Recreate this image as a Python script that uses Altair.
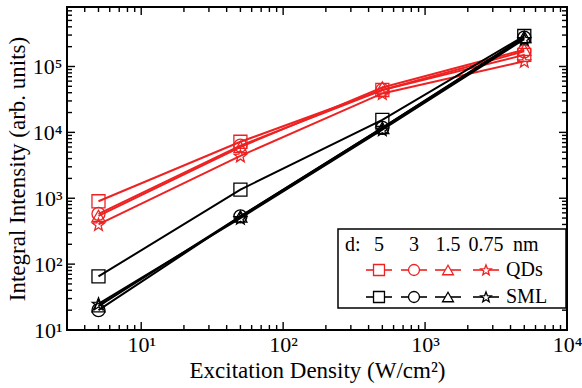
import math
import altair as alt
import pandas as pd

# ---------------- data ----------------
density = [5, 50, 500, 5000]                 # W/cm^2
thickness = ["5", "3", "1.5", "0.75"]         # nm
samples = ["QDs", "SML"]

qd_5 = [900, 7200, 44000, 150000]
qd_3 = [580, 6300, 44000, 170000]
qd_15 = [540, 6000, 48000, 180000]
qd_075 = [400, 4400, 39000, 120000]

sml_5 = [65, 1350, 15500, 290000]
sml_3 = [20, 530, 11700, 275000]
sml_15 = [23, 530, 11700, 280000]
sml_075 = [25, 500, 11000, 260000]

x_major = [10, 100, 1000, 10000]
y_major = [10, 100, 1000, 10000, 100000]
mult = [2, 3, 4, 5, 6, 7, 8, 9]

# ---------------- style ----------------
RED = "#ee2222"
FONT = "Liberation Serif"
W, H = 500, 323
XTITLE = "Excitation Density (W/cm²)"
YTITLE = "Integral Intensity (arb. units)"

star_pts = []
for k in range(10):
    ang = math.radians(-90 + 36 * k)
    r = 1.0 if k % 2 == 0 else 0.42
    star_pts.append((r * math.cos(ang), r * math.sin(ang) + 0.08))
STAR = "M" + "L".join(f"{px:.3f},{py:.3f}" for px, py in star_pts) + "Z"
SHAPES = ["square", "circle", "triangle-up", STAR]

rows = []
for sample, series in [("QDs", [qd_5, qd_3, qd_15, qd_075]),
                       ("SML", [sml_5, sml_3, sml_15, sml_075])]:
    for d, vals in zip(thickness, series):
        for x, v in zip(density, vals):
            rows.append({"sample": sample, "d": d, "density": x, "intensity": v})
df = pd.DataFrame(rows)

xscale = alt.Scale(type="log", domain=[3, 10000], nice=False)
yscale = alt.Scale(type="log", domain=[10, 800000], nice=False)
sup = "['⁰','¹','²','³','⁴','⁵','⁶'][round(log(datum.value)/LN10)]"

xaxis = alt.Axis(values=x_major, labelExpr="'10' + " + sup, ticks=False, domain=False,
                 grid=False, labelFont=FONT, labelFontSize=22, labelColor="black",
                 labelPadding=4, title=XTITLE, titleFont=FONT,
                 titleFontSize=23, titleFontWeight="normal", titleColor="black",
                 titlePadding=4, labelFlush=False)
yaxis = alt.Axis(values=y_major, labelExpr="'10' + " + sup, ticks=False, domain=False,
                 grid=False, labelFont=FONT, labelFontSize=22, labelColor="black",
                 labelPadding=5, title=YTITLE, titleFont=FONT,
                 titleFontSize=23, titleFontWeight="normal", titleColor="black",
                 titlePadding=3, labelFlush=False)

color = alt.Color("sample:N", scale=alt.Scale(domain=samples, range=[RED, "black"]), legend=None)
X = lambda f: alt.X(f, scale=xscale, axis=xaxis, title=XTITLE)
Y = lambda f: alt.Y(f, scale=yscale, axis=yaxis, title=YTITLE)

lines = alt.Chart(df).mark_line(strokeWidth=2).encode(
    x=X("density:Q"), y=Y("intensity:Q"), color=color, detail="d:N",
)
points = alt.Chart(df).mark_point(filled=False, strokeWidth=1.3, size=170, opacity=1).encode(
    x=X("density:Q"), y=Y("intensity:Q"), color=color,
    shape=alt.Shape("d:N", scale=alt.Scale(domain=thickness, range=SHAPES), legend=None),
)

# ---------------- inward ticks ----------------
x_minor = [m * 10 ** k for k in range(0, 4) for m in mult if 3 <= m * 10 ** k < 10000]
y_minor = [m * 10 ** k for k in range(1, 6) for m in mult if m * 10 ** k < 800000]


def xticks(vals, length):
    base = alt.Chart(pd.DataFrame({"v": vals})).mark_rule(color="black", strokeWidth=1.4)
    return [base.encode(x=X("v:Q"), y=alt.value(H), y2=alt.value(H - length)),
            base.encode(x=X("v:Q"), y=alt.value(0), y2=alt.value(length))]


def yticks(vals, length):
    base = alt.Chart(pd.DataFrame({"v": vals})).mark_rule(color="black", strokeWidth=1.4)
    return [base.encode(y=Y("v:Q"), x=alt.value(0), x2=alt.value(length)),
            base.encode(y=Y("v:Q"), x=alt.value(W), x2=alt.value(W - length))]


tick_layers = xticks(x_major, 8) + xticks(x_minor, 5) + yticks(y_major, 8) + yticks(y_minor, 5)

# ---------------- custom legend ----------------
leg_cols = [312, 347, 381, 419]
leg_rows = {"QDs": 263, "SML": 290}
leg_colors = {"QDs": RED, "SML": "black"}

box = alt.Chart(pd.DataFrame({"a": [0]})).mark_rect(
    fill="white", stroke="black", strokeWidth=1.5).encode(
    x=alt.value(271), x2=alt.value(499), y=alt.value(222), y2=alt.value(301))

seg_rows, mk_rows, txt_rows = [], [], []
for s in samples:
    for cx, shp in zip(leg_cols, SHAPES):
        seg_rows.append({"x": cx - 13, "x2": cx + 13, "y": leg_rows[s], "c": leg_colors[s]})
        mk_rows.append({"x": cx, "y": leg_rows[s], "c": leg_colors[s], "shape": shp})
    txt_rows.append({"x": 439, "y": leg_rows[s], "t": s, "align": "left"})
txt_rows.append({"x": 278, "y": 238, "t": "d:", "align": "left"})
for cx, d in zip(leg_cols, thickness):
    txt_rows.append({"x": cx, "y": 238, "t": d, "align": "center"})
txt_rows.append({"x": 446, "y": 238, "t": "nm", "align": "left"})

segs = alt.Chart(pd.DataFrame(seg_rows)).mark_rule(strokeWidth=1.6).encode(
    x=alt.X("x:Q", scale=None), x2="x2:Q", y=alt.Y("y:Q", scale=None),
    color=alt.Color("c:N", scale=None))
mks = alt.Chart(pd.DataFrame(mk_rows)).mark_point(
    fill="white", fillOpacity=1, opacity=1, strokeWidth=1.3, size=120).encode(
    x=alt.X("x:Q", scale=None), y=alt.Y("y:Q", scale=None),
    stroke=alt.Stroke("c:N", scale=None), shape=alt.Shape("shape:N", scale=None))
tdf = pd.DataFrame(txt_rows)
txt_left = alt.Chart(tdf[tdf["align"] == "left"]).mark_text(
    font=FONT, fontSize=20, align="left", baseline="middle", color="black").encode(
    x=alt.X("x:Q", scale=None), y=alt.Y("y:Q", scale=None), text="t:N")
txt_center = alt.Chart(tdf[tdf["align"] == "center"]).mark_text(
    font=FONT, fontSize=20, align="center", baseline="middle", color="black").encode(
    x=alt.X("x:Q", scale=None), y=alt.Y("y:Q", scale=None), text="t:N")

chart = alt.layer(lines, points, *tick_layers, box, segs, mks, txt_left, txt_center).properties(
    width=W, height=H,
    autosize=alt.AutoSizeParams(type="none"),
    padding={"left": 67, "top": 7, "right": 15, "bottom": 58},
).configure_view(stroke="black", strokeWidth=2).configure_axis(
    labelFont=FONT, titleFont=FONT, labelFontSize=22, titleFontSize=23,
    labelColor="black", titleColor="black", titleFontWeight="normal",
).configure_text(font=FONT)

chart.save("out.html", embed_options={"renderer": "svg", "actions": False})
